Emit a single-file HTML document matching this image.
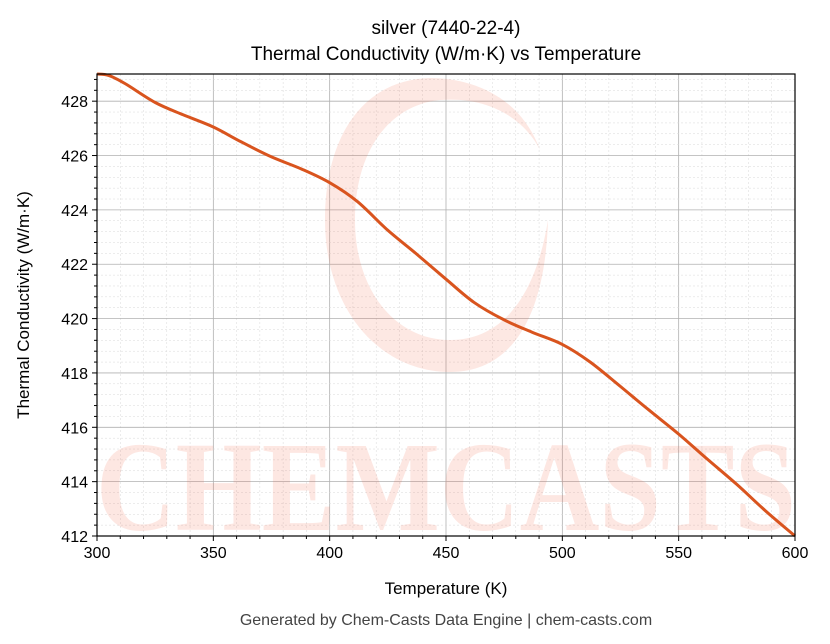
<!DOCTYPE html>
<html><head><meta charset="utf-8"><style>
html,body{margin:0;padding:0;background:#fff;}
svg{display:block;font-family:"Liberation Sans","DejaVu Sans",sans-serif;}
</style></head><body>
<svg id="s" width="830" height="644" xmlns="http://www.w3.org/2000/svg">
<rect width="830" height="644" fill="#fff"/>
<g id="grid"></g>
<g opacity="0.14" fill="#f25a3c">
<path d="M540,150 C520,95 470,78 430,78 C360,80 325,140 325,220 C325,310 380,372 450,372 C510,372 545,320 548,220 C535,300 500,340 450,340 C395,340 355,290 355,220 C355,150 390,105 440,100 C490,96 525,120 540,150 Z"/>
<text x="446" y="530" font-size="128" font-weight="bold" text-anchor="middle" textLength="700" lengthAdjust="spacingAndGlyphs" font-family="Liberation Serif,serif">CHEMCASTS</text>
</g>
<g id="curve"></g>
<rect x="97" y="74" width="698" height="462" fill="none" stroke="#000" stroke-width="1.2"/>
<g id="ticks" font-size="16" fill="#000"></g>
<text x="446" y="34" font-size="19" text-anchor="middle">silver (7440-22-4)</text>
<text x="446" y="60" font-size="19" text-anchor="middle">Thermal Conductivity (W/m·K) vs Temperature</text>
<text x="446" y="594" font-size="17" text-anchor="middle">Temperature (K)</text>
<text transform="translate(29,305) rotate(-90)" font-size="17" text-anchor="middle">Thermal Conductivity (W/m·K)</text>
<text x="446" y="625" font-size="16" fill="#444" text-anchor="middle">Generated by Chem-Casts Data Engine | chem-casts.com</text>
</svg>
<script>
const X=t=>97+(t-300)*698/300, Y=v=>536-(v-412)*462/17;
let g='',tk='';
for(let t=300;t<=600;t+=10){const x=X(t);const maj=t%50==0;
g+=`<line x1="${x}" y1="74" x2="${x}" y2="536" stroke="${maj?'#b0b0b0':'#d8d8d8'}" stroke-width="${maj?0.8:0.5}" ${maj?'':'stroke-dasharray="2,2"'}/>`;
tk+=`<line x1="${x}" y1="536" x2="${x}" y2="${maj?541:539}" stroke="#000"/>`;
if(maj)tk+=`<text x="${x}" y="558" text-anchor="middle">${t}</text>`;}
for(let i=0;i<=42;i++){const v=412+i*0.4;const y=Y(v);const maj=i%5==0;
g+=`<line x1="97" y1="${y}" x2="795" y2="${y}" stroke="${maj?'#b0b0b0':'#d8d8d8'}" stroke-width="${maj?0.8:0.5}" ${maj?'':'stroke-dasharray="2,2"'}/>`;
tk+=`<line x1="97" y1="${y}" x2="${maj?92:94}" y2="${y}" stroke="#000"/>`;
if(maj)tk+=`<text x="88" y="${y+6}" text-anchor="end">${Math.round(v)}</text>`;}
document.getElementById('grid').innerHTML=g;document.getElementById('ticks').innerHTML=tk;
const p=[[300,429],[305,428.95],[312,428.65],[325,427.95],[337,427.5],[350,427.05],[362,426.5],[375,425.95],[388,425.5],[400,425],[412,424.3],[425,423.25],[437,422.4],[450,421.45],[462,420.6],[475,419.95],[487,419.5],[500,419.05],[512,418.4],[525,417.5],[537,416.65],[550,415.75],[562,414.85],[575,413.9],[587,412.95],[600,412]].map(q=>[X(q[0]),Y(q[1])]);
let d=`M${p[0][0]},${p[0][1]}`;
for(let i=0;i<p.length-1;i++){const a=p[Math.max(0,i-1)],b=p[i],c=p[i+1],e=p[Math.min(p.length-1,i+2)];
d+=` C${(b[0]+(c[0]-a[0])/6).toFixed(1)},${(b[1]+(c[1]-a[1])/6).toFixed(1)} ${(c[0]-(e[0]-b[0])/6).toFixed(1)},${(c[1]-(e[1]-b[1])/6).toFixed(1)} ${c[0].toFixed(1)},${c[1].toFixed(1)}`;}
document.getElementById('curve').innerHTML=`<path d="${d}" fill="none" stroke="#d9541e" stroke-width="3" stroke-linejoin="round"/>`;
</script>
</body></html>
